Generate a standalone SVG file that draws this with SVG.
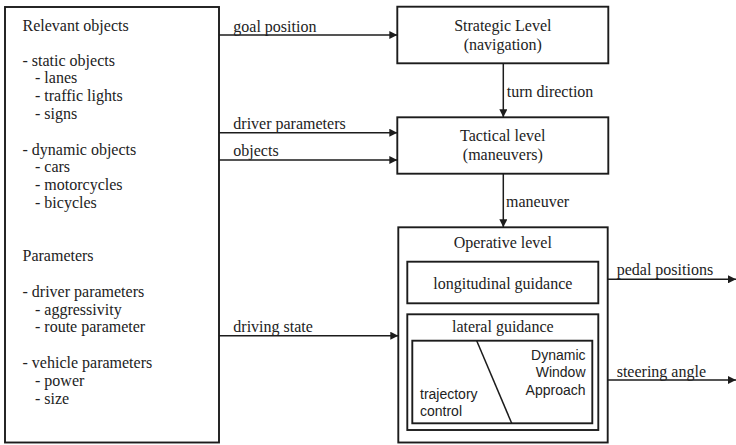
<svg xmlns="http://www.w3.org/2000/svg" width="736" height="445" viewBox="0 0 736 445">
  <style>
    .box { fill: #ffffff; stroke: #1c1c1c; stroke-width: 1.9; }
    .line { fill: none; stroke: #1c1c1c; stroke-width: 1.5; }
    text { font-family: 'Liberation Serif', 'Times New Roman', serif; font-size: 16px; fill: #222222; }
    text.sans { font-family: 'Liberation Sans', Arial, sans-serif; font-size: 14px; }
    .mid { text-anchor: middle; }
    .end { text-anchor: end; }
  </style>
  <defs>
    <marker id="arrow" viewBox="0 0 10 10" refX="10" refY="5" markerWidth="9" markerHeight="8" markerUnits="userSpaceOnUse" orient="auto">
      <path d="M0,0 L10,5 L0,10 Z" fill="#1c1c1c"/>
    </marker>
  </defs>

  <rect width="736" height="445" fill="#ffffff"/>

  <!-- Input list -->
  <g id="inputs">
    <rect class="box" x="5" y="7" width="214" height="435.5"/>
    <text x="22.5" y="30.5">Relevant objects</text>
    <text x="22.5" y="65.5">- static objects</text>
    <text x="35" y="83.2">- lanes</text>
    <text x="35" y="101">- traffic lights</text>
    <text x="35" y="118.8">- signs</text>
    <text x="22.5" y="154.5">- dynamic objects</text>
    <text x="35" y="172.2">- cars</text>
    <text x="35" y="190">- motorcycles</text>
    <text x="35" y="207.8">- bicycles</text>
    <text x="22.5" y="260.7">Parameters</text>
    <text x="22.5" y="296.8">- driver parameters</text>
    <text x="35" y="314.6">- aggressivity</text>
    <text x="35" y="332.4">- route parameter</text>
    <text x="22.5" y="368.4">- vehicle parameters</text>
    <text x="35" y="386.2">- power</text>
    <text x="35" y="404">- size</text>
  </g>

  <!-- Strategic level -->
  <g id="strategic">
    <rect class="box" x="397.3" y="6.7" width="211" height="56.6"/>
    <text class="mid" x="502.8" y="30.7">Strategic Level</text>
    <text class="mid" x="502.8" y="50">(navigation)</text>
  </g>

  <!-- Tactical level -->
  <g id="tactical">
    <rect class="box" x="397.3" y="117.3" width="211" height="56.4"/>
    <text class="mid" x="502.8" y="140.5">Tactical level</text>
    <text class="mid" x="502.8" y="160">(maneuvers)</text>
  </g>

  <!-- Operative level with its guidance blocks -->
  <g id="operative">
    <rect class="box" x="398.3" y="227.3" width="209.4" height="215.2"/>
    <text class="mid" x="502.8" y="247.5">Operative level</text>
  </g>
  <g id="longitudinal">
    <rect class="box" x="407.3" y="261.7" width="191" height="41.6"/>
    <text class="mid" x="502.8" y="288.5">longitudinal guidance</text>
  </g>
  <g id="lateral">
    <rect class="box" x="407.3" y="314.3" width="191" height="115.7"/>
    <text class="mid" x="502.8" y="331.8">lateral guidance</text>
    <rect class="box" x="412.3" y="340.7" width="180" height="82.6"/>
    <line class="line" x1="476.7" y1="340.7" x2="511.7" y2="423.3" stroke-width="1.8"/>
    <text class="sans end" x="585.5" y="359.5">Dynamic</text>
    <text class="sans end" x="585.5" y="377.3">Window</text>
    <text class="sans end" x="585.5" y="395">Approach</text>
    <text class="sans" x="420" y="398.5">trajectory</text>
    <text class="sans" x="420" y="416.2">control</text>
  </g>

  <!-- Connectors -->
  <g id="connectors">
    <line class="line" x1="219" y1="35" x2="397.3" y2="35" marker-end="url(#arrow)"/>
    <line class="line" x1="219" y1="132.7" x2="397.3" y2="132.7" marker-end="url(#arrow)"/>
    <line class="line" x1="219" y1="160" x2="397.3" y2="160" marker-end="url(#arrow)"/>
    <line class="line" x1="219" y1="335.7" x2="398.3" y2="335.7" marker-end="url(#arrow)"/>
    <line class="line" x1="503.3" y1="63.3" x2="503.3" y2="117.3" marker-end="url(#arrow)"/>
    <line class="line" x1="503.3" y1="173.7" x2="503.3" y2="227.3" marker-end="url(#arrow)"/>
    <line class="line" x1="607.7" y1="279.3" x2="736" y2="279.3" marker-end="url(#arrow)"/>
    <line class="line" x1="607.7" y1="380" x2="736" y2="380" marker-end="url(#arrow)"/>

    <text x="233.3" y="31.5">goal position</text>
    <text x="233.3" y="129">driver parameters</text>
    <text x="233.3" y="156.3">objects</text>
    <text x="233.3" y="332">driving state</text>
    <text x="506.7" y="96.7">turn direction</text>
    <text x="506" y="206.7">maneuver</text>
    <text x="616.7" y="275.3">pedal positions</text>
    <text x="616.7" y="376.5">steering angle</text>
  </g>
</svg>
